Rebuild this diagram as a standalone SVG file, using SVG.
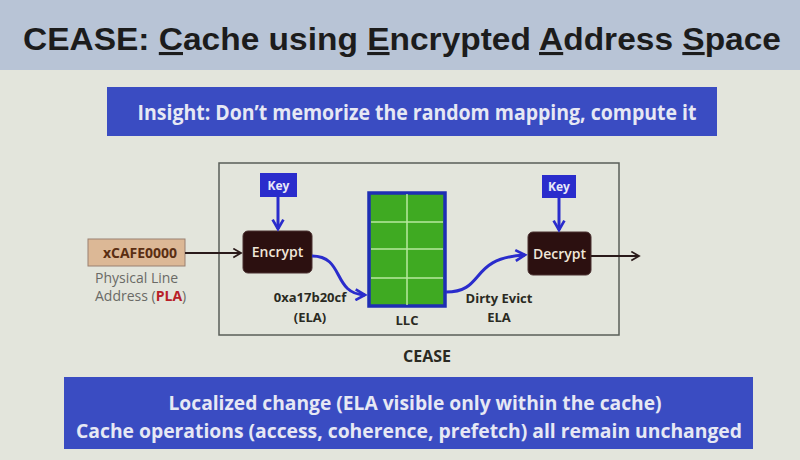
<svg xmlns="http://www.w3.org/2000/svg" width="800" height="460" viewBox="0 0 800 460">
<defs>
<style>
.cal{font-family:"Open Sans","Noto Sans",sans-serif}
.lbl{font-family:"Open Sans","Noto Sans",sans-serif;font-weight:bold;font-size:13px;fill:#2a2a22;text-anchor:middle}
.key{fill:#2a2ccc}
.keyt{font-family:"Open Sans","Noto Sans",sans-serif;font-weight:bold;font-size:12px;fill:#e8e8f8;text-anchor:middle}
.proc{fill:#2c1010;stroke:#4a3030;stroke-width:1}
.proct{font-family:"Open Sans","Noto Sans",sans-serif;font-weight:600;font-size:14px;fill:#f0e6d8;text-anchor:middle}
.blue{stroke:#2a2ccc;stroke-width:3;fill:none}
.dark{stroke:#2a1a1a;stroke-width:2;fill:none}
</style>
<marker id="ab" viewBox="0 0 10 10" refX="8" refY="5" markerWidth="4.5" markerHeight="4.5" orient="auto"><path d="M1,1 L8,5 L1,9" fill="none" stroke="#2a2ccc" stroke-width="2"/></marker>
<marker id="ad" viewBox="0 0 10 10" refX="8" refY="5" markerWidth="5.5" markerHeight="5.5" orient="auto"><path d="M1,1 L8,5 L1,9" fill="none" stroke="#2a1a1a" stroke-width="1.6"/></marker>
</defs>
<rect width="800" height="460" fill="#e3e5dc"/>
<rect width="800" height="70" fill="#b8c4d6"/>
<text x="402" y="50" text-anchor="middle" font-family="'Liberation Sans',Arial,sans-serif" font-weight="bold" font-size="31" fill="#1c1c1c" textLength="758" lengthAdjust="spacingAndGlyphs">CEASE: <tspan text-decoration="underline">C</tspan>ache using <tspan text-decoration="underline">E</tspan>ncrypted <tspan text-decoration="underline">A</tspan>ddress <tspan text-decoration="underline">S</tspan>pace</text>

<g id="insight">
<rect x="107" y="87" width="610" height="49" fill="#3a4cc2"/>
<text x="417" y="120" class="cal" font-weight="bold" font-size="21" fill="#e6e8f4" text-anchor="middle" textLength="559" lengthAdjust="spacingAndGlyphs">Insight: Don’t memorize the random mapping, compute it</text>
</g>

<g id="cease-frame">
<rect x="219" y="163" width="400" height="172" fill="none" stroke="#5a5e58" stroke-width="1.5"/>
<text x="427" y="362" class="lbl" style="font-size:16px">CEASE</text>
</g>

<g id="pla">
<rect x="88" y="239" width="97" height="27" fill="#dcb896" stroke="#9a8070" stroke-width="1"/>
<text x="140" y="258" class="cal" font-weight="bold" font-size="14" fill="#5a2e12" text-anchor="middle">xCAFE0000</text>
<text x="95" y="283" class="cal" font-size="14" fill="#6a6a66">Physical Line</text>
<text x="95" y="301" class="cal" font-size="14" fill="#6a6a66">Address (<tspan font-weight="bold" fill="#b82028">PLA</tspan>)</text>
</g>

<g id="key1">
<rect x="260" y="173" width="37" height="24" class="key"/>
<text x="278.500" y="190" class="keyt">Key</text>
</g>

<g id="encrypt">
<rect x="243" y="231" width="69" height="42" rx="5" class="proc"/>
<text x="277.500" y="257" class="proct">Encrypt</text>
</g>

<g id="llc">
<rect x="369" y="193" width="76" height="113" fill="#3faa22" stroke="#1e2eb4" stroke-width="3.5"/>
<line x1="407" y1="194" x2="407" y2="305" stroke="#b8e8a0" stroke-width="1.5"/>
<line x1="371" y1="222" x2="443" y2="222" stroke="#b8e8a0" stroke-width="1.5"/>
<line x1="371" y1="249" x2="443" y2="249" stroke="#b8e8a0" stroke-width="1.5"/>
<line x1="371" y1="278" x2="443" y2="278" stroke="#b8e8a0" stroke-width="1.5"/>
<text x="407" y="325" class="lbl">LLC</text>
</g>

<g id="key2">
<rect x="542" y="175" width="34" height="23" class="key"/>
<text x="559" y="191" class="keyt">Key</text>
</g>

<g id="decrypt">
<rect x="528" y="232" width="63" height="43" rx="5" class="proc"/>
<text x="559.500" y="259" class="proct">Decrypt</text>
</g>

<g id="connectors">
<line x1="185" y1="253" x2="241" y2="253" class="dark" marker-end="url(#ad)"/>
<line x1="591" y1="256" x2="639" y2="256" class="dark" marker-end="url(#ad)"/>
<line x1="278" y1="197" x2="278" y2="229" class="blue" marker-end="url(#ab)"/>
<line x1="559" y1="198" x2="559" y2="230" class="blue" marker-end="url(#ab)"/>
<path d="M312,256 C345,256 332,294 365,295" class="blue" marker-end="url(#ab)"/>
<path d="M446,292 C486,292 468,258 525,255" class="blue" marker-end="url(#ab)"/>
<text x="310" y="302" class="lbl">0xa17b20cf</text>
<text x="310" y="322" class="lbl">(ELA)</text>
<text x="499" y="303" class="lbl">Dirty Evict</text>
<text x="499" y="322" class="lbl">ELA</text>
</g>

<g id="summary">
<rect x="64" y="377" width="689" height="72" fill="#3a4cc2"/>
<text x="415" y="410" class="cal" font-weight="bold" font-size="20" fill="#e6e8f4" text-anchor="middle" textLength="493" lengthAdjust="spacingAndGlyphs">Localized change (ELA visible only within the cache)</text>
<text x="409" y="438" class="cal" font-weight="bold" font-size="20" fill="#e6e8f4" text-anchor="middle" textLength="666" lengthAdjust="spacingAndGlyphs">Cache operations (access, coherence, prefetch) all remain unchanged</text>
</g>
</svg>
